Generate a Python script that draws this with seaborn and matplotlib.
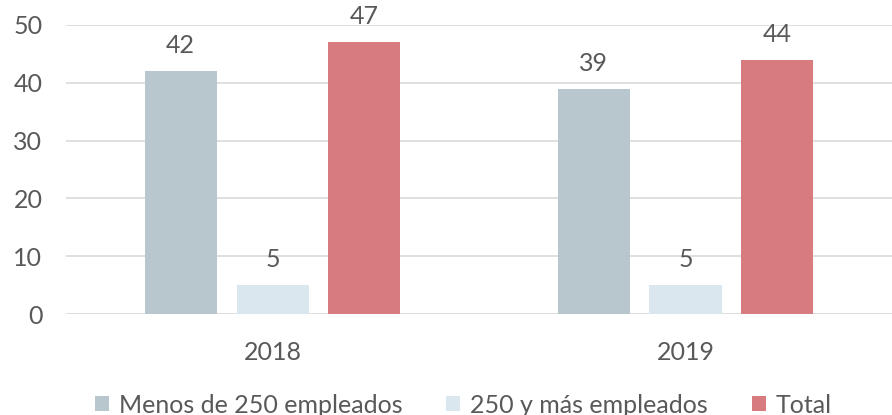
import pandas as pd
import matplotlib.pyplot as plt
import seaborn as sns

years = ["2018", "2019"]
series = ["Menos de 250 empleados", "250 y más empleados", "Total"]
menos_250 = [42, 39]
mas_250 = [5, 5]
total = [47, 44]
colors = ["#B8C7CE", "#DAE7EE", "#D87B7F"]

df = pd.DataFrame({
    "year": years * 3,
    "serie": [series[0]] * 2 + [series[1]] * 2 + [series[2]] * 2,
    "value": menos_250 + mas_250 + total,
})

sns.set_style("white")
plt.rcParams["font.family"] = ["Lato", "DejaVu Sans"]
text_color = "#595959"
fs = 18

fig = plt.figure(figsize=(8.92, 4.15), dpi=100)
ax = fig.add_axes([0.074, 0.243, 0.926, 0.697])

sns.barplot(data=df, x="year", y="value", hue="serie", hue_order=series,
            palette=colors, width=0.668, gap=0.217, saturation=1,
            edgecolor="none", ax=ax, zorder=3)

for cont in ax.containers:
    ax.bar_label(cont, padding=10, fontsize=fs, color=text_color, clip_on=False)

ax.set_ylim(0, 50)
ax.set_yticks(range(0, 51, 10))
ax.grid(axis="y", color="#D9D9D9", linewidth=1.2, zorder=0)
ax.set_axisbelow(True)
for s in ax.spines.values():
    s.set_visible(False)
ax.set_xlabel("")
ax.set_ylabel("")
ax.tick_params(axis="both", length=0, labelsize=fs, colors=text_color)
ax.tick_params(axis="x", pad=19)
ax.tick_params(axis="y", pad=17)

ax.legend(loc="lower center", bbox_to_anchor=(0.481, -0.432), ncol=3,
          frameon=False, fontsize=fs, handlelength=0.56, handleheight=0.56,
          handletextpad=0.4, columnspacing=1.75, labelcolor=text_color)

fig.savefig("out.png", dpi=100)
